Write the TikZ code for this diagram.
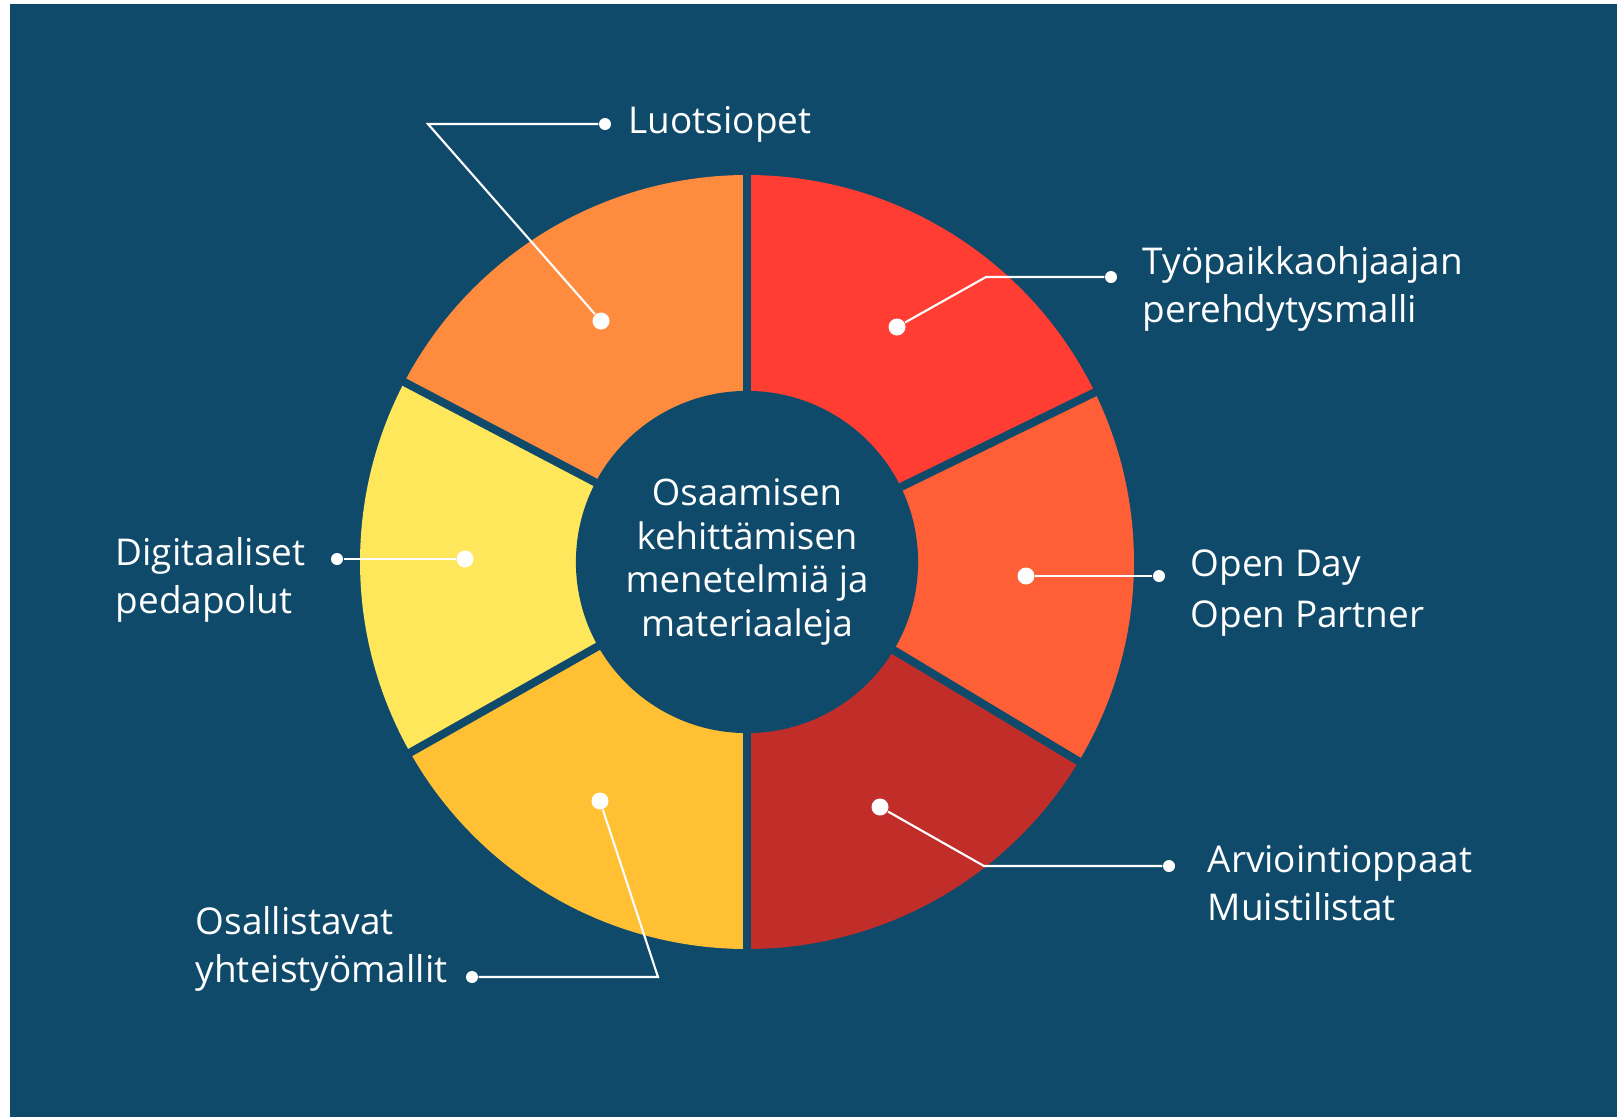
\documentclass[tikz,border=0pt]{standalone}
\usepackage{fontspec}
\setmainfont{Open Sans}
\definecolor{bgblue}{HTML}{104A6B}
\definecolor{segorange}{HTML}{FF8C3E}
\definecolor{segred}{HTML}{FF3D33}
\definecolor{segcoral}{HTML}{FF5F36}
\definecolor{segdarkred}{HTML}{C12E2A}
\definecolor{segamber}{HTML}{FFC034}
\definecolor{segyellow}{HTML}{FFE75C}
\begin{document}
\begin{tikzpicture}[x=0.01cm, y=0.01cm,
        bigdot/.style={circle, fill=white, inner sep=0pt, minimum size=0.17cm},
        smalldot/.style={circle, fill=white, inner sep=0pt, minimum size=0.12cm},
        leader/.style={draw=white, line width=0.6pt},
        seam/.style={draw=bgblue, line width=2.3pt},
        itemtext/.style={text=white, align=left, inner sep=0pt, font=\fontsize{10.5}{13.4}\selectfont}]
            \useasboundingbox[fill=white] (0,0) rectangle (1617,-1117);
            \fill[bgblue] (10,-4) rectangle (1617,-1117);

            \begin{scope}[shift={(747,-562)}]
                \fill[segorange] (0,0) -- (90:387) arc[start angle=90, end angle=152.3, radius=387] -- cycle;
                \fill[segred] (0,0) -- (26:387) arc[start angle=26, end angle=90, radius=387] -- cycle;
                \fill[segcoral] (0,0) -- (-31:387) arc[start angle=-31, end angle=26, radius=387] -- cycle;
                \fill[segdarkred] (0,0) -- (-90:387) arc[start angle=-90, end angle=-31, radius=387] -- cycle;
                \fill[segamber] (0,0) -- (-150.5:387) arc[start angle=-150.5, end angle=-90, radius=387] -- cycle;
                \fill[segyellow] (0,0) -- (152.3:387) arc[start angle=152.3, end angle=209.5, radius=387] -- cycle;

                \draw[seam] (0,0) -- (90:395);
                \draw[seam] (0,0) -- (26:395);
                \draw[seam] (0,0) -- (-31:395);
                \draw[seam] (0,0) -- (-90:395);
                \draw[seam] (0,0) -- (-150.5:395);
                \draw[seam] (0,0) -- (152.3:395);
            \end{scope}

            \node[circle, fill=bgblue, inner sep=0pt, minimum size=3.42cm, text=white, align=center,
                font=\fontsize{10.4}{12.4}\selectfont] (hub) at (747,-562)
                {Osaamisen\\kehittämisen\\menetelmiä ja\\materiaaleja};

            \node[bigdot] (luotsi) at (601,-321) {};
            \coordinate (luotsi-bend) at (428,-124);
            \node[smalldot] (luotsi-end) at (605,-124) {};
            \draw[leader] (luotsi) -- (luotsi-bend) -- (luotsi-end);
            \node[itemtext, anchor=base west] (luotsi-text) at (628,-133) {Luotsiopet};

            \node[bigdot] (tyopaikka) at (897,-327) {};
            \coordinate (tyopaikka-bend) at (986,-277);
            \node[smalldot] (tyopaikka-end) at (1111,-277) {};
            \draw[leader] (tyopaikka) -- (tyopaikka-bend) -- (tyopaikka-end);
            \node[itemtext, anchor=base west] (tyopaikka-text) at (1142,-322) {Työpaikkaohjaajan\\perehdytysmalli};

            \node[bigdot] (openday) at (1026,-576) {};
            \node[smalldot] (openday-end) at (1159,-576) {};
            \draw[leader] (openday) -- (openday-end);
            \node[itemtext, anchor=base west] (openday-text) at (1190,-627) {Open Day\\[1pt]Open Partner};

            \node[bigdot] (arviointi) at (880,-807) {};
            \coordinate (arviointi-bend) at (984,-866);
            \node[smalldot] (arviointi-end) at (1169,-866) {};
            \draw[leader] (arviointi) -- (arviointi-bend) -- (arviointi-end);
            \node[itemtext, anchor=base west] (arviointi-text) at (1207,-920) {Arviointioppaat\\Muistilistat};

            \node[bigdot] (osallistavat) at (600,-801) {};
            \coordinate (osallistavat-bend) at (658,-977);
            \node[smalldot] (osallistavat-end) at (472,-977) {};
            \draw[leader] (osallistavat) -- (osallistavat-bend) -- (osallistavat-end);
            \node[itemtext, anchor=base west] (osallistavat-text) at (195,-982) {Osallistavat\\yhteistyömallit};

            \node[bigdot] (digitaaliset) at (465,-559) {};
            \node[smalldot] (digitaaliset-end) at (337,-559) {};
            \draw[leader] (digitaaliset) -- (digitaaliset-end);
            \node[itemtext, anchor=base west] (digitaaliset-text) at (115,-613) {Digitaaliset\\pedapolut};
        \end{tikzpicture}
\end{document}
